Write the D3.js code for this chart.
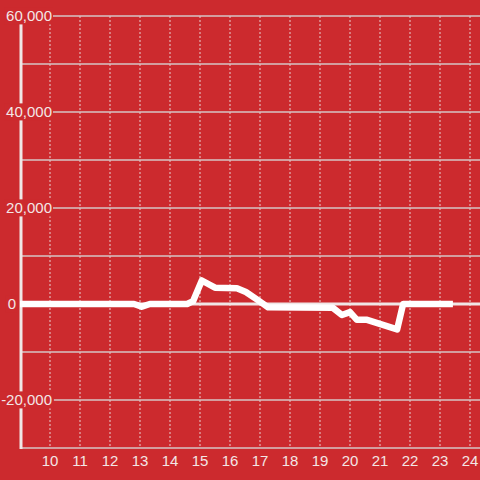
<!DOCTYPE html>
<html><head><meta charset="utf-8">
<script src="https://cdn.jsdelivr.net/npm/d3@7"></script>
<style>html,body{margin:0;padding:0;background:#cc2a2e;}svg{display:block;}</style>
</head><body>
<svg id="c" width="480" height="480"></svg>
<script>
const hours = [9.0, 12.8, 13.06, 13.33, 14.57, 14.77, 15.06, 15.5, 16.23, 16.53, 16.93, 17.27, 19.43, 19.73, 20.0, 20.23, 20.57, 21.57, 21.77, 23.43];
const values = [0, 0, -550, 0, 0, 600, 4900, 3400, 3300, 2500, 800, -700, -800, -2300, -1700, -3300, -3300, -5300, 0, 0];
const yTicks = [60000, 40000, 20000, 0, -20000];
const yGrid = [60000, 50000, 40000, 30000, 20000, 10000, -10000, -20000, -30000];
const xTicks = [10, 11, 12, 13, 14, 15, 16, 17, 18, 19, 20, 21, 22, 23, 24];

const svg = d3.select("#c");
const bg = "#cc2a2e";
const x = d3.scaleLinear().domain([9, 24.333]).range([20, 480]);
const y = d3.scaleLinear().domain([-30000, 60000]).range([448, 16]);
const fmt = d3.formatLocale({decimal: ".", thousands: ",", grouping: [3], currency: ["", ""], minus: "-"}).format(",");

// vertical dotted grid
svg.append("g").selectAll("line").data(xTicks).join("line")
  .attr("x1", d => x(d)).attr("x2", d => x(d))
  .attr("y1", y(60000)).attr("y2", y(-30000))
  .attr("stroke", "#e8d0d0").attr("stroke-width", 1).attr("stroke-dasharray", "2,2");

// horizontal grid
svg.append("g").selectAll("line").data(yGrid).join("line")
  .attr("x1", 21).attr("x2", 480)
  .attr("y1", d => y(d)).attr("y2", d => y(d))
  .attr("stroke", "#d6c6c6").attr("stroke-width", 1.3);

// zero line
svg.append("line").attr("x1", 21).attr("x2", 480).attr("y1", y(0)).attr("y2", y(0))
  .attr("stroke", "#f0e6e6").attr("stroke-width", 3);

// y axis line
svg.append("line").attr("x1", 21).attr("x2", 21).attr("y1", y(60000)).attr("y2", 449)
  .attr("stroke", "#f0e6e6").attr("stroke-width", 3);

// y labels with background
const yl = svg.append("g").selectAll("g").data(yTicks).join("g");
yl.each(function(d) {
  const g = d3.select(this);
  const t = g.append("text")
    .attr("x", d === 0 ? 16 : 52).attr("y", y(d)).attr("dy", "0.36em")
    .attr("text-anchor", "end")
    .attr("font-family", "Liberation Sans, Arial, sans-serif").attr("font-size", 15)
    .attr("fill", "#f3e6e6").text(fmt(d));
  const b = t.node().getBBox();
  g.insert("rect", "text").attr("x", Math.max(0, b.x - 2)).attr("y", b.y).attr("width", b.width + 3).attr("height", b.height)
    .attr("fill", bg);
});

// x labels
svg.append("g").selectAll("text").data(xTicks).join("text")
  .attr("x", d => x(d)).attr("y", 466).attr("text-anchor", "middle")
  .attr("font-family", "Liberation Sans, Arial, sans-serif").attr("font-size", 15)
  .attr("fill", "#f3e6e6").text(d => d);

// data line
const line = d3.line().x((d, i) => x(hours[i])).y(d => y(d));
svg.append("path").datum(values).attr("d", line)
  .attr("fill", "none").attr("stroke", "#ffffff").attr("stroke-width", 6.5)
  .attr("stroke-linejoin", "round");
</script>
</body></html>
